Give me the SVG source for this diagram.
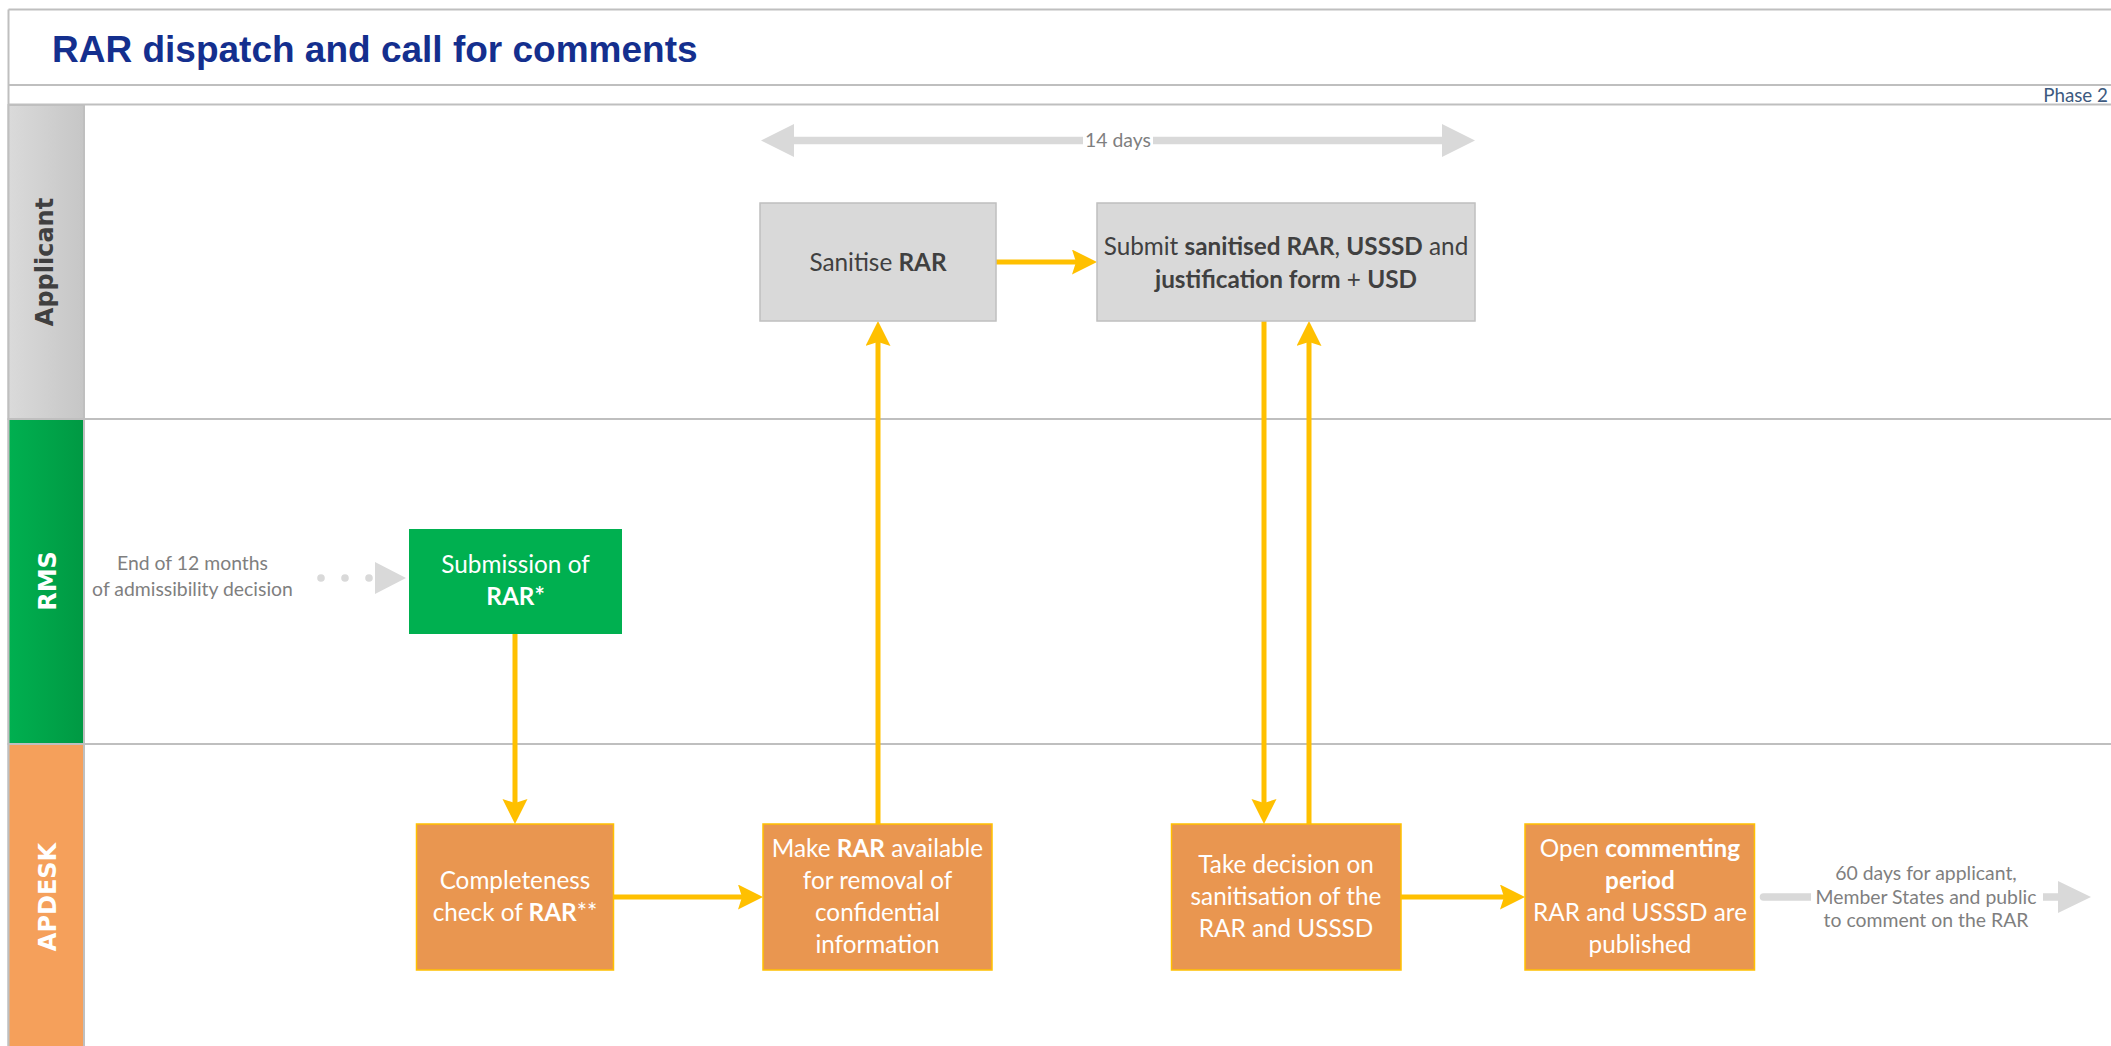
<svg xmlns="http://www.w3.org/2000/svg" width="2111" height="1046" viewBox="0 0 2111 1046">
  <style>
    .frame { fill: none; stroke: #bfbfbf; stroke-width: 2; }
    .sep { stroke: #bfbfbf; stroke-width: 2; }
    .title { font-family: "Liberation Sans", Arial, sans-serif; font-weight: 700; font-size: 37px; fill: #142f8e; }
    .phase { font-family: Lato, "Liberation Sans", sans-serif; font-size: 18.8px; fill: #3d5a80; text-anchor: end; }
    .lane { font-family: "DejaVu Sans", Verdana, sans-serif; font-weight: 700; font-size: 24px; text-anchor: middle; }
    .node { font-family: Lato, "Liberation Sans", sans-serif; font-size: 24.3px; text-anchor: middle; }
    .wt { fill: #ffffff; }
    .dk { fill: #404040; }
    .b { font-weight: 700; }
    .note { font-family: Lato, "Liberation Sans", sans-serif; font-size: 19.4px; fill: #7f7f7f; text-anchor: middle; }
    .gbox { fill: #d9d9d9; stroke: #bfbfbf; stroke-width: 1.5; }
    .green { fill: #00b050; }
    .obox { fill: #e99650; stroke: #ffc000; stroke-width: 1.5; }
    .flow { stroke: #ffc000; stroke-width: 5; fill: none; marker-end: url(#ya); }
    .grey { fill: #d9d9d9; }
  </style>
  <defs>
    <linearGradient id="gApp" x1="0" y1="0" x2="1" y2="0">
      <stop offset="0" stop-color="#dadada"/>
      <stop offset="1" stop-color="#c6c6c6"/>
    </linearGradient>
    <linearGradient id="gRms" x1="0" y1="0" x2="1" y2="0">
      <stop offset="0" stop-color="#00b050"/>
      <stop offset="1" stop-color="#009943"/>
    </linearGradient>
    <marker id="ya" markerUnits="userSpaceOnUse" markerWidth="26" markerHeight="26" refX="19" refY="12.5" orient="auto">
      <path d="M0,0 L25,12.5 L0,25 L4,12.5 Z" fill="#ffc000"/>
    </marker>
  </defs>

  <rect width="2111" height="1046" fill="#ffffff"/>

  <g id="frame">
    <line class="sep" x1="8.5" y1="9.5" x2="2111" y2="9.5"/>
    <line class="sep" x1="8.5" y1="85" x2="2111" y2="85"/>
    <line class="sep" x1="8.5" y1="104.5" x2="2111" y2="104.5"/>
    <line class="sep" x1="8.5" y1="9.5" x2="8.5" y2="1046"/>
    <text class="title" x="52" y="62">RAR dispatch and call for comments</text>
    <text class="phase" x="2108" y="101.5">Phase 2</text>
  </g>

  <g id="lane-applicant">
    <rect x="8.5" y="105" width="75.5" height="314" fill="url(#gApp)" stroke="#bfbfbf" stroke-width="2"/>
    <text class="lane" fill="#404040" transform="translate(53,262) rotate(-90)">Applicant</text>
  </g>
  <g id="lane-rms">
    <rect x="8.5" y="419" width="75.5" height="325" fill="url(#gRms)" stroke="#bfbfbf" stroke-width="2"/>
    <text class="lane" fill="#ffffff" transform="translate(55.5,581) rotate(-90)">RMS</text>
  </g>
  <g id="lane-apdesk">
    <rect x="8.5" y="744" width="75.5" height="304" fill="#f5a05b" stroke="#bfbfbf" stroke-width="2"/>
    <text class="lane" fill="#ffffff" transform="translate(55.5,897) rotate(-90)">APDESK</text>
  </g>
  <g id="lane-separators">
    <line class="sep" x1="84" y1="419" x2="2111" y2="419"/>
    <line class="sep" x1="84" y1="744" x2="2111" y2="744"/>
  </g>

  <g id="timer-14-days">
    <path class="grey" d="M761,140.5 L794,124 L794,136.75 L1442,136.75 L1442,124 L1475,140.5 L1442,157 L1442,144.25 L794,144.25 L794,157 Z"/>
    <rect x="1083" y="133" width="70" height="15" fill="#ffffff"/>
    <text class="note" x="1118" y="146.7">14 days</text>
  </g>

  <g id="start-note">
    <text class="note" x="192.5" y="570">End of 12 months</text>
    <text class="note" x="192.5" y="596">of admissibility decision</text>
    <line x1="321" y1="578" x2="370" y2="578" stroke="#d9d9d9" stroke-width="7.6" stroke-linecap="round" stroke-dasharray="0 24"/>
    <path class="grey" d="M375,562 L406,578 L375,594 Z"/>
  </g>

  <g id="end-note">
    <line x1="1763.5" y1="897" x2="2060" y2="897" stroke="#d9d9d9" stroke-width="7.5" stroke-linecap="round"/>
    <path class="grey" d="M2058,881 L2091,897 L2058,913 Z"/>
    <rect x="1811" y="889" width="232" height="16" fill="#ffffff"/>
    <text class="note" x="1926" y="880">60 days for applicant,</text>
    <text class="note" x="1926" y="903.5">Member States and public</text>
    <text class="note" x="1926" y="927">to comment on the RAR</text>
  </g>

  <g id="connectors">
    <line class="flow" x1="515" y1="634" x2="515" y2="818"/>
    <line class="flow" x1="613.5" y1="897" x2="757" y2="897"/>
    <line class="flow" x1="878" y1="824" x2="878" y2="327"/>
    <line class="flow" x1="996" y1="262" x2="1091" y2="262"/>
    <line class="flow" x1="1264" y1="321" x2="1264" y2="818"/>
    <line class="flow" x1="1309" y1="824" x2="1309" y2="327"/>
    <line class="flow" x1="1401" y1="897" x2="1519" y2="897"/>
  </g>

  <g id="node-sanitise">
    <rect class="gbox" x="760" y="203" width="236" height="118"/>
    <text class="node dk" x="878" y="270.5">Sanitise <tspan class="b">RAR</tspan></text>
  </g>
  <g id="node-submit">
    <rect class="gbox" x="1097" y="203" width="378" height="118"/>
    <text class="node dk" x="1286" y="255">Submit <tspan class="b">sanitised RAR</tspan>, <tspan class="b">USSSD</tspan> and</text>
    <text class="node dk" x="1286" y="288"><tspan class="b">justification form</tspan> + <tspan class="b">USD</tspan></text>
  </g>
  <g id="node-submission">
    <rect class="green" x="409" y="529" width="213" height="105"/>
    <text class="node wt" x="515.5" y="573">Submission of</text>
    <text class="node wt" x="515.5" y="605"><tspan class="b">RAR*</tspan></text>
  </g>
  <g id="node-completeness">
    <rect class="obox" x="416.5" y="824" width="197" height="146"/>
    <text class="node wt" x="515" y="889">Completeness</text>
    <text class="node wt" x="515" y="921">check of <tspan class="b">RAR</tspan>**</text>
  </g>
  <g id="node-make-available">
    <rect class="obox" x="763" y="824" width="229" height="146"/>
    <text class="node wt" x="877.5" y="857">Make <tspan class="b">RAR</tspan> available</text>
    <text class="node wt" x="877.5" y="889">for removal of</text>
    <text class="node wt" x="877.5" y="921">confidential</text>
    <text class="node wt" x="877.5" y="953">information</text>
  </g>
  <g id="node-decision">
    <rect class="obox" x="1171.5" y="824" width="229.5" height="146"/>
    <text class="node wt" x="1286" y="873">Take decision on</text>
    <text class="node wt" x="1286" y="905">sanitisation of the</text>
    <text class="node wt" x="1286" y="937">RAR and USSSD</text>
  </g>
  <g id="node-open-commenting">
    <rect class="obox" x="1525" y="824" width="229.5" height="146"/>
    <text class="node wt" x="1640" y="857">Open <tspan class="b">commenting</tspan></text>
    <text class="node wt" x="1640" y="889"><tspan class="b">period</tspan></text>
    <text class="node wt" x="1640" y="921">RAR and USSSD are</text>
    <text class="node wt" x="1640" y="953">published</text>
  </g>
</svg>
